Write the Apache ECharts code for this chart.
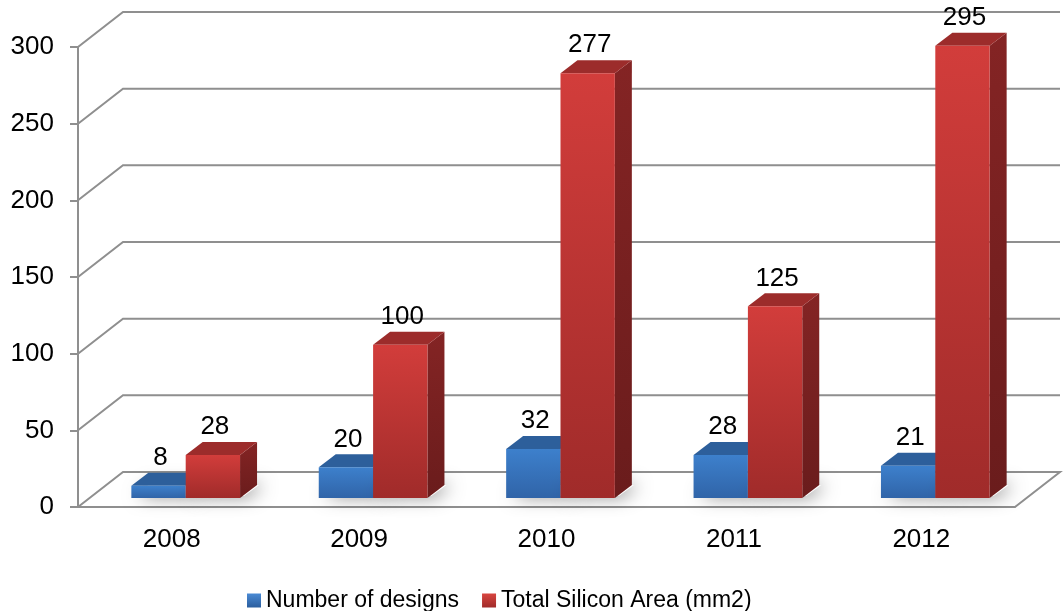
<!DOCTYPE html>
<html>
<head>
<meta charset="utf-8">
<title>Designs and silicon area</title>
<script src="https://cdn.jsdelivr.net/npm/echarts@6/dist/echarts.min.js"></script>
<style>
  html, body { margin: 0; padding: 0; background: #fff; }
  #chart { width: 1064px; height: 611px; }
</style>
</head>
<body>
<div id="chart"></div>
<script>
/* data */
const years = ['2008', '2009', '2010', '2011', '2012']
const designs = [8, 20, 32, 28, 21]
const siliconArea = [28, 100, 277, 125, 295]
const yTicks = [0, 50, 100, 150, 200, 250, 300]

/* 3d look (pixels) */
const WALL_DX = 45
const WALL_DY = -35
const BAR_DX = 17
const BAR_DY = -13
const FRONT_DX = 14
const FRONT_DY = -9
const BAR_RATIO = 0.29
const FONT = 'Liberation Sans, Arial, sans-serif'

const grad = (a, b) => new echarts.graphic.LinearGradient(0, 0, 0, 1, [
  { offset: 0, color: a },
  { offset: 1, color: b }
])

const palettes = [
  { front: grad('#3d80cc', '#3064a8'), side: grad('#2a5a92', '#24497a'), top: '#2d5f9b', legend: grad('#4a8ad4', '#2b5e9e') },
  { front: grad('#d23d3b', '#a02b2a'), side: grad('#842424', '#6a1c1c'), top: '#9c2c2b', legend: grad('#d8453f', '#a02b2a') }
]

/**
 * one 3d bar: floor shadow, side, top, front, label
 */
function barRenderer(seriesIndex) {
  return function (params, api) {
    const cat = api.value(0)
    const val = api.value(1)
    const base = api.coord([cat, 0])
    const top = api.coord([cat, val])
    const w = api.size([1, 0])[0] * BAR_RATIO
    const x0 = base[0] + FRONT_DX + (seriesIndex === 0 ? -w : 0)
    const y0 = base[1] + FRONT_DY
    const y1 = top[1] + FRONT_DY
    const pal = palettes[seriesIndex]
    return {
      type: 'group',
      children: [
        {
          type: 'polygon',
          shape: { points: [[x0 + 2, y0 - 2], [x0 + w + 4, y0 - 2], [x0 + w + BAR_DX + 2, y0 + BAR_DY], [x0 + BAR_DX, y0 + BAR_DY]] },
          style: { fill: '#fff', shadowBlur: 18, shadowOffsetX: 4, shadowColor: 'rgba(0,0,0,0.55)' },
          silent: true
        },
        {
          type: 'polygon',
          shape: { points: [[x0 + w, y1], [x0 + w + BAR_DX, y1 + BAR_DY], [x0 + w + BAR_DX, y0 + BAR_DY], [x0 + w, y0]] },
          style: { fill: pal.side }
        },
        {
          type: 'polygon',
          shape: { points: [[x0, y1], [x0 + BAR_DX, y1 + BAR_DY], [x0 + w + BAR_DX, y1 + BAR_DY], [x0 + w, y1]] },
          style: { fill: pal.top }
        },
        {
          type: 'rect',
          shape: { x: x0, y: y1, width: w, height: y0 - y1 },
          style: { fill: pal.front }
        },
        {
          type: 'text',
          x: x0 + w / 2 + 2,
          y: y1 + BAR_DY - 2,
          style: {
            text: String(val),
            fill: '#000',
            font: '26px ' + FONT,
            align: 'center',
            verticalAlign: 'bottom'
          }
        }
      ]
    }
  }
}

/**
 * back wall gridlines and floor outline
 */
function wallRenderer(params, api) {
  const cs = params.coordSys
  const p = api.coord([0, api.value(1)])
  const x = cs.x
  const y = p[1]
  const pts = [[x, y], [x + WALL_DX, y + WALL_DY], [x + cs.width + WALL_DX, y + WALL_DY]]
  if (api.value(1) === 0) pts.push([x + cs.width, y])
  return {
    type: 'polyline',
    shape: { points: pts },
    style: { stroke: '#8f8f8f', lineWidth: 2, fill: null },
    silent: true,
    z2: 0
  }
}

const chart = echarts.init(document.getElementById('chart'))
chart.setOption({
  animation: false,
  grid: { left: 78, right: 49, top: 47, bottom: 104 },
  legend: {
    data: ['Number of designs', 'Total Silicon Area (mm2)'],
    top: 584,
    left: 242,
    icon: 'rect',
    itemWidth: 14,
    itemHeight: 14,
    itemGap: 23,
    textStyle: { fontSize: 23, color: '#000', fontFamily: FONT }
  },
  xAxis: {
    type: 'category',
    data: years,
    axisLine: { lineStyle: { color: '#8f8f8f', width: 2 } },
    axisTick: { length: 8, lineStyle: { color: '#8f8f8f', width: 2 } },
    axisLabel: { fontSize: 26, color: '#000', fontFamily: FONT, margin: 20 },
    splitLine: { show: false }
  },
  yAxis: {
    type: 'value',
    min: 0,
    max: 300,
    interval: 50,
    axisLine: { show: true, lineStyle: { color: '#8f8f8f', width: 2 } },
    axisTick: { show: true, length: 8, lineStyle: { color: '#8f8f8f', width: 2 } },
    axisLabel: { fontSize: 26, color: '#000', fontFamily: FONT, margin: 24 },
    splitLine: { show: false }
  },
  series: [
    {
      name: 'wall',
      type: 'custom',
      renderItem: wallRenderer,
      data: yTicks.map(v => [0, v]),
      encode: { x: 0, y: 1 },
      clip: false,
      silent: true,
      z: 1
    },
    {
      name: 'Number of designs',
      type: 'custom',
      renderItem: barRenderer(0),
      itemStyle: { color: palettes[0].legend },
      data: designs.map((v, i) => [i, v]),
      encode: { x: 0, y: 1 },
      clip: false,
      z: 2
    },
    {
      name: 'Total Silicon Area (mm2)',
      type: 'custom',
      renderItem: barRenderer(1),
      itemStyle: { color: palettes[1].legend },
      data: siliconArea.map((v, i) => [i, v]),
      encode: { x: 0, y: 1 },
      clip: false,
      z: 3
    }
  ]
})
</script>
</body>
</html>
